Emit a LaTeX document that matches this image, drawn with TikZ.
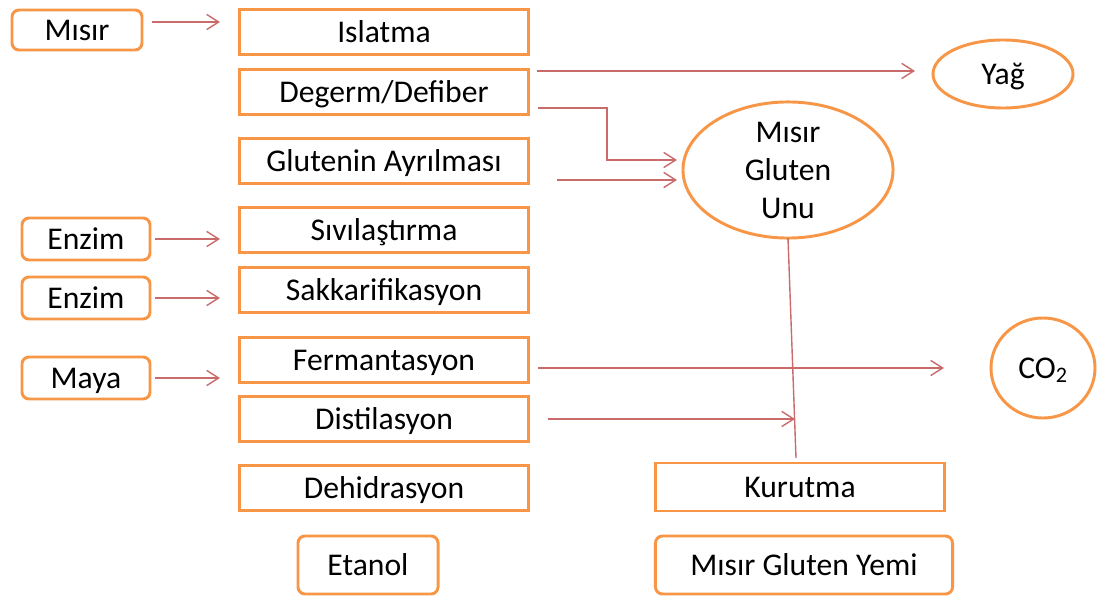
\documentclass[tikz,border=0pt]{standalone}
\usepackage{fontspec}
\setmainfont{Carlito}
\usetikzlibrary{arrows.meta}
\usetikzlibrary{shapes.geometric}
\usetikzlibrary{positioning}
\definecolor{boxorange}{HTML}{F79646}
\definecolor{flowred}{HTML}{C96B6B}
\tikzstyle{process}=[draw=boxorange, line width=2.1pt, minimum width=7.2cm, minimum height=1.125cm, inner sep=0, outer sep=0]
\tikzstyle{source}=[process, rounded corners=5pt]
\tikzstyle{product}=[draw=boxorange, line width=2.1pt, ellipse, inner sep=0, outer sep=0, align=center]
\tikzstyle{flow}=[draw=flowred, line width=1pt, -{Straight Barb[length=0.3cm, width=0.38cm]}]
\tikzstyle{diagram}=[x=0.025cm, y=-0.025cm,
                     % Calibri-like text for every label.
                     every node/.style={font=\fontsize{22.5pt}{27pt}\selectfont, text depth=0pt}]

\begin{document}
\begin{tikzpicture}[diagram]
        \useasboundingbox (0, 0) rectangle (1098, 597);
        % left column of inputs
        \node[source, minimum width=3.25cm, minimum height=1cm] (misir) at (77, 30) {Mısır};
        \node[source, minimum width=3.2cm, minimum height=1.05cm] (enzimA) at (86, 239) {Enzim};
        \node[source, minimum width=3.2cm, minimum height=1.05cm] (enzimB) at (86, 298) {Enzim};
        \node[source, minimum width=3.2cm, minimum height=1.05cm] (maya) at (86, 378) {Maya};
        % process steps
        \node[process] (islatma) at (384, 32) {Islatma};
        \node[process] (degerm) at (384, 92) {Degerm/Defiber};
        \node[process] (glutenin) at (384, 161) {Glutenin Ayrılması};
        \node[process] (sivi) at (384, 230) {Sıvılaştırma};
        \node[process] (sakkari) at (384, 290) {Sakkarifikasyon};
        \node[process] (ferment) at (384, 360) {Fermantasyon};
        \node[process] (distil) at (384, 419) {Distilasyon};
        \node[process] (dehidr) at (384, 488) {Dehidrasyon};
        \node[source, minimum width=3.5cm, minimum height=1.45cm] (etanol) at (368, 565) {Etanol};
        % side products
        \node[product, minimum width=3.5cm, minimum height=1.7cm] (yag) at (1003, 74) {Yağ};
        \node[product, minimum width=5.25cm, minimum height=3cm] (mgu) at (788, 170) {Mısır\\Gluten\\Unu};
        \node[product, minimum width=2.6cm, minimum height=2.5cm] (co2) at (1043, 368) {CO\textsubscript{2}};
        \node[process, minimum height=1.2cm] (kurutma) at (800, 487) {Kurutma};
        \node[source, minimum width=7.425cm, minimum height=1.45cm] (mgy) at (804, 565) {Mısır Gluten Yemi};
        % connectors
        \draw[flow, shorten <=0.25cm, shorten >=0.5cm] ([yshift=0.2cm]misir.east) -- ([yshift=0.2cm]misir.east -| islatma.west);
        \draw[flow, shorten <=0.125cm, shorten >=0.5cm] (enzimA.east) -- (enzimA.east -| sivi.west);
        \draw[flow, shorten <=0.125cm, shorten >=0.5cm] (enzimB.east) -- (enzimB.east -| sakkari.west);
        \draw[flow, shorten <=0.125cm, shorten >=0.5cm] (maya.east) -- (maya.east -| ferment.west);
        \draw[flow, shorten <=0.225cm, shorten >=0.45cm] ([yshift=0.525cm]degerm.east) -- ([yshift=0.525cm]degerm.east -| yag.west);
        \draw[flow] ([xshift=0.25cm, yshift=-0.4cm]degerm.east) -- +(1.725cm, 0) |- ([xshift=-0.15cm, yshift=0.25cm]mgu.west);
        \draw[flow, shorten <=0.725cm, shorten >=0.15cm] ([yshift=-0.475cm]glutenin.east) -- ([yshift=-0.475cm]glutenin.east -| mgu.west);
        \draw[draw=flowred, line width=1pt] (mgu.south) -- ([xshift=-0.1cm, yshift=0.125cm]kurutma.north);
        \draw[flow, shorten <=0.25cm, shorten >=1.175cm] ([yshift=-0.2cm]ferment.east) -- ([yshift=-0.2cm]ferment.east -| co2.west);
        \draw[flow, shorten <=0.5cm] (distil.east) -- ([xshift=-0.125cm]distil.east -| kurutma.north);
    \end{tikzpicture}
\end{document}
